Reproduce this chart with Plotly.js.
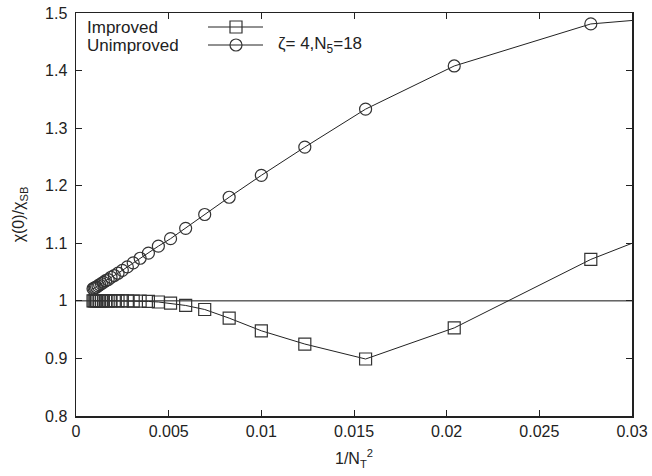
<!DOCTYPE html>
<html>
<head>
<meta charset="utf-8">
<script src="https://cdn.plot.ly/plotly-3.0.1.min.js"></script>
<style>html,body{margin:0;padding:0;background:#fff;}#chart{width:652px;height:476px;}</style>
</head>
<body>
<div id="chart"></div>
<script>
// N_T values of the lattice points
const NT = [6,7,8,9,10,11,12,13,14,15,16,17,18,19,20,21,22,23,24,25,26,27,28,29,30,31,32,33];
// chi(0)/chi_SB, improved action (squares)
const improved = [1.072,0.953,0.899,0.925,0.948,0.970,0.985,0.992,0.996,0.998,0.999,0.9995,0.9997,0.9998,0.9998,0.9999,0.9999,0.9999,1.0,1.0,1.0,1.0,1.0,1.0,1.0,1.0,1.0,1.0];
// chi(0)/chi_SB, unimproved action (circles)
const unimproved = [1.481,1.408,1.333,1.267,1.218,1.180,1.150,1.126,1.108,1.095,1.083,1.074,1.066,1.059,1.053,1.048,1.044,1.041,1.037,1.035,1.032,1.030,1.028,1.026,1.024,1.023,1.022,1.021];
// curve continuation to the right edge of the plot (x = 0.03)
const xEdge = 0.03;
const improvedEdge = 1.100;
const unimprovedEdge = 1.487;
// reference line chi/chi_SB = 1
const refX = [0, 0.03];
const refY = [1, 1];
// tick labels
const xTicks = [0,0.005,0.01,0.015,0.02,0.025,0.03];
const xTickText = ['0','0.005','0.01','0.015','0.02','0.025','0.03'];
const yTicks = [0.8,0.9,1,1.1,1.2,1.3,1.4,1.5];
const yTickText = ['0.8','0.9','1','1.1','1.2','1.3','1.4','1.5'];

const xVals = NT.map(n => 1/(n*n));

const FAM = 'Liberation Sans, Arial, Helvetica, sans-serif';
const tickFont = {family: FAM, size: 16, color: '#222'};
const legFont = {family: FAM, size: 17, color: '#222'};

const traces = [
  {x: refX, y: refY, mode: 'lines', line: {color: '#111', width: 1}, hoverinfo: 'skip'},
  {x: [xEdge].concat(xVals), y: [improvedEdge].concat(improved), mode: 'lines', line: {color: '#222', width: 1}},
  {x: [xEdge].concat(xVals), y: [unimprovedEdge].concat(unimproved), mode: 'lines', line: {color: '#222', width: 1}},
  {x: xVals, y: improved, mode: 'markers', marker: {symbol: 'square-open', size: 12, color: '#333', line: {width: 1.2}}},
  {x: xVals, y: unimproved, mode: 'markers', marker: {symbol: 'circle-open', size: 12, color: '#333', line: {width: 1.2}}}
];

// manual legend (text left, sample right, like the original)
const H = 403, W = 556;
const py = p => (416 - p) / H;
const px = p => (p - 76) / W;
const rowA = py(27), rowB = py(45);
const sx0 = px(208), sx1 = px(263), smid = px(236);
const hx = 6 / W, hy = 6 / H;

const layout = {
  width: 652, height: 476,
  margin: {l: 76, r: 20, t: 13, b: 60},
  paper_bgcolor: '#fff', plot_bgcolor: '#fff',
  showlegend: false,
  font: tickFont,
  xaxis: {
    range: [0, 0.03], tickmode: 'array', tickvals: xTicks, ticktext: xTickText,
    ticks: 'inside', ticklen: 6, tickcolor: '#222', mirror: 'ticks', tickfont: tickFont,
    showline: true, linecolor: '#222', linewidth: 1.5, showgrid: false, zeroline: false,
    title: {text: '1/N<sub>T</sub><sup>2</sup>', font: tickFont, standoff: 14}
  },
  yaxis: {
    range: [0.8, 1.5], tickmode: 'array', tickvals: yTicks, ticktext: yTickText,
    ticks: 'inside', ticklen: 6, tickcolor: '#222', mirror: 'ticks', tickfont: tickFont,
    ticklabelstandoff: 4,
    showline: true, linecolor: '#222', linewidth: 1.5, showgrid: false, zeroline: false,
    title: {text: 'χ(0)/χ<sub>SB</sub>', font: tickFont, standoff: 16}
  },
  annotations: [
    {xref: 'paper', yref: 'paper', x: px(86), y: rowA, xanchor: 'left', yanchor: 'middle', text: 'Improved', showarrow: false, font: legFont, height: 18, borderpad: 0},
    {xref: 'paper', yref: 'paper', x: px(86), y: rowB, xanchor: 'left', yanchor: 'middle', text: 'Unimproved', showarrow: false, font: legFont, height: 18, borderpad: 0},
    {xref: 'paper', yref: 'paper', x: px(276), y: rowB, xanchor: 'left', yanchor: 'middle', text: 'ζ= 4,N<sub>5</sub>=18', showarrow: false, font: legFont}
  ],
  shapes: [
    {type: 'line', xref: 'paper', yref: 'paper', x0: sx0, x1: sx1, y0: rowA, y1: rowA, line: {color: '#222', width: 1}},
    {type: 'rect', xref: 'paper', yref: 'paper', x0: smid - hx, x1: smid + hx, y0: rowA - hy, y1: rowA + hy, line: {color: '#333', width: 1.2}, fillcolor: 'rgba(0,0,0,0)'},
    {type: 'line', xref: 'paper', yref: 'paper', x0: sx0, x1: sx1, y0: rowB, y1: rowB, line: {color: '#222', width: 1}},
    {type: 'circle', xref: 'paper', yref: 'paper', x0: smid - hx, x1: smid + hx, y0: rowB - hy, y1: rowB + hy, line: {color: '#333', width: 1.2}, fillcolor: 'rgba(0,0,0,0)'}
  ]
};

Plotly.newPlot('chart', traces, layout, {displayModeBar: false, staticPlot: true});
</script>
</body>
</html>
